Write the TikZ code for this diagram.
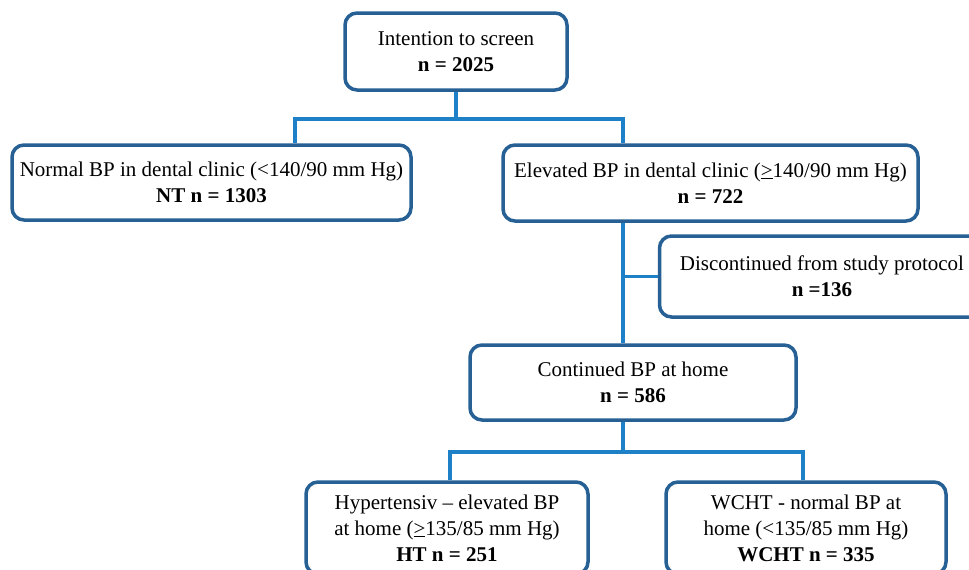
\documentclass[tikz,border=0pt]{standalone}
\usepackage{fontspec}
\setmainfont{Liberation Serif}
\begin{document}
\begin{tikzpicture}[x=1pt,y=-1pt,
  box/.style={draw=boxblue,line width=3.5pt,rounded corners=12pt,fill=white,align=center,
    inner sep=0pt,font=\fontsize{21}{26}\selectfont},
  conn/.style={draw=lineblue,line width=3.5pt}]
\definecolor{boxblue}{RGB}{38,96,148}
\definecolor{lineblue}{RGB}{30,128,198}
\useasboundingbox (0,0) rectangle (969,570);
\clip (0,0) rectangle (969,570);
\fill[white] (0,0) rectangle (969,570);
\node[box,minimum width=222pt,minimum height=77pt] (top) at (456,51.5) {Intention to screen\\\textbf{n = 2025}};
\node[box,minimum width=399pt,minimum height=75pt] (left) at (211.5,182.5) {Normal BP in dental clinic (<140/90 mm Hg)\\\textbf{NT n = 1303}};
\node[box,minimum width=415pt,minimum height=76pt] (elev) at (710.5,183) {Elevated BP in dental clinic (\underline{>}140/90 mm Hg)\\\textbf{n = 722}};
\node[box,minimum width=325pt,minimum height=81pt] (disc) at (822,276.5) {Discontinued from study protocol\\\textbf{n =136}};
\node[box,minimum width=326pt,minimum height=75pt] (cont) at (633,382.5) {Continued BP at home\\\textbf{n = 586}};
\node[box,minimum width=282pt,minimum height=92pt] (ht) at (447,528) {Hypertensiv -- elevated BP\\at home (\underline{>}135/85 mm Hg)\\\textbf{HT n = 251}};
\node[box,minimum width=280pt,minimum height=92pt] (wc) at (806,528) {WCHT - normal BP at\\home (<135/85 mm Hg)\\\textbf{WCHT n = 335}};
% connectors
\draw[conn] (top.south) -- ++(0,27) coordinate (j1);
\draw[conn] (j1) -| ([xshift=83.5pt]left.north);
\draw[conn] (j1) -| ([xshift=-87.5pt]elev.north);
\draw[conn] ([xshift=-87.5pt]elev.south) -- ([xshift=-10pt]cont.north);
\draw[conn] (disc.west) -- ([xshift=-10pt]disc.west -| cont.north);
\draw[conn] ([xshift=-10pt]cont.south) -- ++(0,30) coordinate (j2);
\draw[conn] (j2) -| ([xshift=3pt]ht.north);
\draw[conn] (j2) -| ([xshift=-3pt]wc.north);
\end{tikzpicture}
\end{document}
